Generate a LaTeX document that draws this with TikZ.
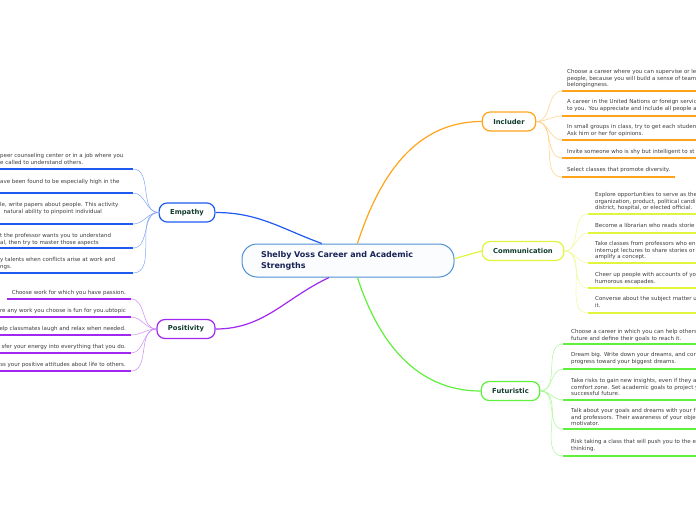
\documentclass[tikz,border=0pt]{standalone}
\usepackage{fontspec}
\setmainfont{DejaVu Sans}
\usetikzlibrary{positioning}
\definecolor{incorange}{RGB}{255,163,26}
\definecolor{comyellow}{RGB}{225,245,60}
\definecolor{futgreen}{RGB}{95,240,60}
\definecolor{empblue}{RGB}{30,90,240}
\definecolor{pospurple}{RGB}{160,40,240}
\definecolor{rootblue}{RGB}{80,145,210}
\definecolor{rootnavy}{RGB}{25,35,85}
\definecolor{topicgreen}{RGB}{18,60,45}
\definecolor{subgray}{RGB}{60,60,60}

\begin{document}
\begin{tikzpicture}[
      x=1pt, y=1pt,
      root/.style={rectangle, draw=rootblue, fill=rootblue!3, line width=1pt, rounded corners=15pt, minimum width=212pt, minimum height=33pt, text width=174pt, inner xsep=19pt, align=left, font=\fontsize{8}{11}\selectfont\bfseries, text=rootnavy},
      topic/.style={rectangle, draw=#1, fill=white, line width=1.2pt, rounded corners=8pt, minimum height=19pt, inner xsep=11pt, font=\fontsize{6.8}{8}\selectfont\bfseries, text=topicgreen},
      sub/.style={inner sep=0pt, align=left, font=\fontsize{5.5}{6.5}\selectfont, text=subgray},
      uline/.style={line width=1.5pt, #1},
      link/.style={line width=1.2pt, #1},
      twig/.style={line width=0.5pt, #1!55}
    ]
      \useasboundingbox (0,0) rectangle (696,-520);
      \clip (0,0) rectangle (696,-520);

      \node[root] (root) at (348,-260.5) {Shelby Voss Career and Academic\\Strengths};

      \node[topic=incorange] (inc) at (509,-121.5) {Includer};
      \node[topic=comyellow] (com) at (523,-251) {Communication};
      \node[topic=futgreen] (fut) at (510.5,-391) {Futuristic};
      \node[topic=empblue] (emp) at (187,-212.5) {Empathy};
      \node[topic=pospurple] (pos) at (186,-329) {Positivity};

      \draw[link=incorange] (root.61) to[out=72, in=180] (inc.west);
      \draw[link=comyellow] (root.1) -- (com.west);
      \draw[link=futgreen] (root.299) to[out=-72, in=180] (fut.west);
      \draw[link=empblue] (root.147) to[out=160, in=0] (emp.east);
      \draw[link=pospurple] (root.222) to[out=-155, in=0] (pos.east);

      % Includer
      \node[sub, anchor=north west] (inc1) at (567,-69.5) {Choose a career where you can supervise or le\\people, because you will build a sense of team\\belongingness.};
      \node[sub, anchor=north west] (inc2) at (567,-99.5) {A career in the United Nations or foreign servic\\to you. You appreciate and include all people a};
      \node[sub, anchor=north west] (inc3) at (567,-124.5) {In small groups in class, try to get each studen\\Ask him or her for opinions.};
      \node[sub, anchor=north west] (inc4) at (567,-149.5) {Invite someone who is shy but intelligent to st};
      \node[sub, anchor=north west] (inc5) at (567,-167.5) {Select classes that promote diversity.};
      \coordinate (inc1u) at (562,-91);
      \coordinate (inc2u) at (562,-116);
      \coordinate (inc3u) at (562,-140);
      \coordinate (inc4u) at (562,-158);
      \coordinate (inc5u) at (562,-177);
      \draw[uline=incorange] (inc1u) -- ++(140,0);
      \draw[uline=incorange] (inc2u) -- ++(140,0);
      \draw[uline=incorange] (inc3u) -- ++(140,0);
      \draw[uline=incorange] (inc4u) -- ++(140,0);
      \draw[uline=incorange] (inc5u) -- ++(113,0);
      \draw[twig=incorange] (inc.east) to[out=0, in=180] (inc1u);
      \draw[twig=incorange] (inc.east) to[out=0, in=180] (inc2u);
      \draw[twig=incorange] (inc.east) to[out=0, in=180] (inc3u);
      \draw[twig=incorange] (inc.east) to[out=0, in=180] (inc4u);
      \draw[twig=incorange] (inc.east) to[out=0, in=180] (inc5u);

      % Communication
      \node[sub, anchor=north west] (com1) at (595,-192.5) {Explore opportunities to serve as the\\organization, product, political candi\\district, hospital, or elected official.};
      \node[sub, anchor=north west] (com2) at (595,-223.5) {Become a librarian who reads storie};
      \node[sub, anchor=north west] (com3) at (595,-241.5) {Take classes from professors who en\\interrupt lectures to share stories or\\amplify a concept.};
      \node[sub, anchor=north west] (com4) at (595,-272.5) {Cheer up people with accounts of yo\\humorous escapades.};
      \node[sub, anchor=north west] (com5) at (595,-296.5) {Converse about the subject matter u\\it.};
      \coordinate (com1u) at (588,-214);
      \coordinate (com2u) at (588,-233);
      \coordinate (com3u) at (588,-263);
      \coordinate (com4u) at (588,-288);
      \coordinate (com5u) at (588,-313);
      \draw[uline=comyellow] (com1u) -- ++(120,0);
      \draw[uline=comyellow] (com2u) -- ++(120,0);
      \draw[uline=comyellow] (com3u) -- ++(120,0);
      \draw[uline=comyellow] (com4u) -- ++(120,0);
      \draw[uline=comyellow] (com5u) -- ++(120,0);
      \draw[twig=comyellow] (com.east) to[out=0, in=180] (com1u);
      \draw[twig=comyellow] (com.east) to[out=0, in=180] (com2u);
      \draw[twig=comyellow] (com.east) to[out=0, in=180] (com3u);
      \draw[twig=comyellow] (com.east) to[out=0, in=180] (com4u);
      \draw[twig=comyellow] (com.east) to[out=0, in=180] (com5u);

      % Futuristic
      \node[sub, anchor=north west] (fut1) at (571,-329.5) {Choose a career in which you can help others\\future and define their goals to reach it.};
      \node[sub, anchor=north west] (fut2) at (571,-352.5) {Dream big. Write down your dreams, and cor\\progress toward your biggest dreams.};
      \node[sub, anchor=north west] (fut3) at (571,-378.5) {Take risks to gain new insights, even if they a\\comfort zone. Set academic goals to project y\\successful future.};
      \node[sub, anchor=north west] (fut4) at (571,-408.5) {Talk about your goals and dreams with your f\\and professors. Their awareness of your obje\\motivator.};
      \node[sub, anchor=north west] (fut5) at (571,-439.5) {Risk taking a class that will push you to the e\\thinking.};
      \coordinate (fut1u) at (563,-344);
      \coordinate (fut2u) at (563,-369);
      \coordinate (fut3u) at (563,-400);
      \coordinate (fut4u) at (563,-429);
      \coordinate (fut5u) at (563,-456);
      \draw[uline=futgreen] (fut1u) -- ++(140,0);
      \draw[uline=futgreen] (fut2u) -- ++(140,0);
      \draw[uline=futgreen] (fut3u) -- ++(140,0);
      \draw[uline=futgreen] (fut4u) -- ++(140,0);
      \draw[uline=futgreen] (fut5u) -- ++(140,0);
      \draw[twig=futgreen] (fut.east) to[out=0, in=180] (fut1u);
      \draw[twig=futgreen] (fut.east) to[out=0, in=180] (fut2u);
      \draw[twig=futgreen] (fut.east) to[out=0, in=180] (fut3u);
      \draw[twig=futgreen] (fut.east) to[out=0, in=180] (fut4u);
      \draw[twig=futgreen] (fut.east) to[out=0, in=180] (fut5u);

      % Empathy
      \node[sub, anchor=north west] (emp1) at (0,-153.5) {peer counseling center or in a job where you\\e called to understand others.};
      \node[sub, anchor=north west] (emp2) at (0,-179.5) {ave been found to be especially high in the};
      \node[sub, anchor=north west] (emp3) at (0,-202.5) {le, write papers about people. This activity\\\hspace*{3.5pt}natural ability to pinpoint individual};
      \node[sub, anchor=north west] (emp4) at (0,-233.5) {t the professor wants you to understand\\al, then try to master those aspects};
      \node[sub, anchor=north west] (emp5) at (0,-257.5) {y talents when conflicts arise at work and\\ngs.};
      \coordinate (emp1u) at (133,-169);
      \coordinate (emp2u) at (133,-193);
      \coordinate (emp3u) at (133,-224);
      \coordinate (emp4u) at (133,-248);
      \coordinate (emp5u) at (133,-273);
      \draw[uline=empblue] (emp1u) -- ++(-140,0);
      \draw[uline=empblue] (emp2u) -- ++(-140,0);
      \draw[uline=empblue] (emp3u) -- ++(-140,0);
      \draw[uline=empblue] (emp4u) -- ++(-140,0);
      \draw[uline=empblue] (emp5u) -- ++(-140,0);
      \draw[twig=empblue] (emp.west) to[out=180, in=0] (emp1u);
      \draw[twig=empblue] (emp.west) to[out=180, in=0] (emp2u);
      \draw[twig=empblue] (emp.west) to[out=180, in=0] (emp3u);
      \draw[twig=empblue] (emp.west) to[out=180, in=0] (emp4u);
      \draw[twig=empblue] (emp.west) to[out=180, in=0] (emp5u);

      % Positivity
      \node[sub, anchor=north east] (pos1) at (126,-290.5) {Choose work for which you have passion.};
      \node[sub, anchor=north east] (pos2) at (126,-308.5) {re any work you choose is fun for you.ubtopic};
      \node[sub, anchor=north east] (pos3) at (126,-326.5) {elp classmates laugh and relax when needed.};
      \node[sub, anchor=north east] (pos4) at (126,-344.5) {sfer your energy into everything that you do.};
      \node[sub, anchor=north east] (pos5) at (126,-362.5) {ss your positive attitudes about life to others.};
      \coordinate (pos1u) at (131,-299);
      \coordinate (pos2u) at (131,-317);
      \coordinate (pos3u) at (131,-335);
      \coordinate (pos4u) at (131,-353);
      \coordinate (pos5u) at (131,-371);
      \draw[uline=pospurple] (pos1u) -- ++(-124,0);
      \draw[uline=pospurple] (pos2u) -- ++(-140,0);
      \draw[uline=pospurple] (pos3u) -- ++(-140,0);
      \draw[uline=pospurple] (pos4u) -- ++(-140,0);
      \draw[uline=pospurple] (pos5u) -- ++(-140,0);
      \draw[twig=pospurple] (pos.west) to[out=180, in=0] (pos1u);
      \draw[twig=pospurple] (pos.west) to[out=180, in=0] (pos2u);
      \draw[twig=pospurple] (pos.west) to[out=180, in=0] (pos3u);
      \draw[twig=pospurple] (pos.west) to[out=180, in=0] (pos4u);
      \draw[twig=pospurple] (pos.west) to[out=180, in=0] (pos5u);
    \end{tikzpicture}
\end{document}
